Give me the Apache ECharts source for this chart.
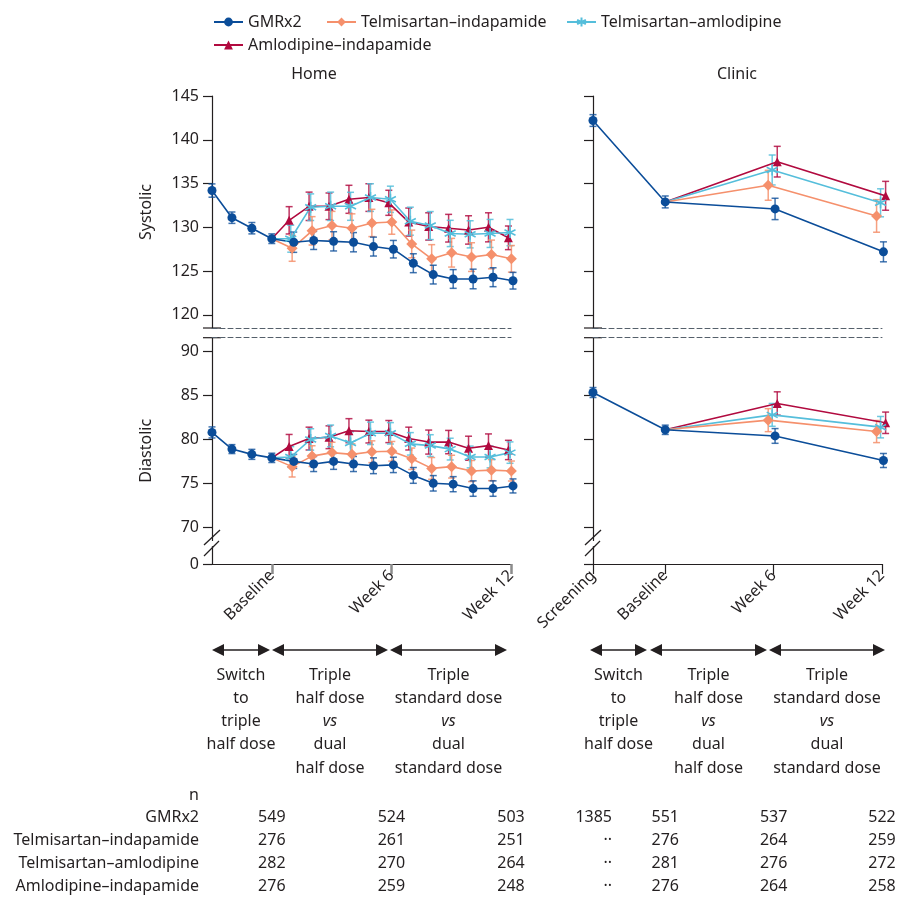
<!DOCTYPE html>
<html><head><meta charset="utf-8">
<script src="https://cdn.jsdelivr.net/npm/echarts@6/dist/echarts.min.js"></script>
<style>html,body{margin:0;padding:0;background:#fff}#c{width:901px;height:901px}</style>
</head><body><div id="c"></div>
<script>
// ---------- data ----------
const groupNames = ['GMRx2', 'Telmisartan–indapamide', 'Telmisartan–amlodipine', 'Amlodipine–indapamide'];
const homeWeeksGMR = [-3, -2, -1, 0, 1, 2, 3, 4, 5, 6, 7, 8, 9, 10, 11, 12];
const homeWeeksDual = [0, 1, 2, 3, 4, 5, 6, 7, 8, 9, 10, 11, 12];
const homeTickValues = [0, 6, 12];
const homeTickLabels = ['Baseline', 'Week 6', 'Week 12'];
const clinicVisits = [-4, 0, 6, 12];
const clinicTickLabels = ['Screening', 'Baseline', 'Week 6', 'Week 12'];
const sysTicks = [120, 125, 130, 135, 140, 145];
const diaTicks = [0, 70, 75, 80, 85, 90];

// Home systolic (mean, half error bar)
const homeSysGMR   = [134.2, 131.1, 129.9, 128.7, 128.3, 128.5, 128.4, 128.3, 127.8, 127.5, 125.9, 124.6, 124.1, 124.1, 124.3, 123.9];
const homeSysGMRse = [0.76, 0.65, 0.65, 0.55, 1.16, 1.03, 1.1, 1.1, 1.08, 1.0, 1.08, 1.07, 1.07, 1.12, 1.08, 0.95];
const homeSysTI    = [128.7, 127.6, 129.6, 130.2, 129.9, 130.5, 130.6, 128.1, 126.4, 127.1, 126.6, 126.9, 126.4];
const homeSysTIse  = [null, 1.48, 1.62, 1.62, 1.64, 1.56, 1.39, 1.58, 1.62, 1.64, 1.64, 1.64, 1.52];
const homeSysTA    = [128.7, 128.7, 132.3, 132.4, 132.4, 133.4, 133.2, 130.7, 130.2, 129.3, 129.2, 129.3, 129.4];
const homeSysTAse  = [null, 1.54, 1.52, 1.62, 1.6, 1.58, 1.5, 1.6, 1.6, 1.5, 1.55, 1.6, 1.5];
const homeSysAI    = [128.7, 130.8, 132.4, 132.4, 133.2, 133.4, 132.8, 130.6, 130.1, 129.9, 129.7, 130.0, 128.8];
const homeSysAIse  = [null, 1.56, 1.62, 1.52, 1.6, 1.58, 1.43, 1.6, 1.56, 1.58, 1.62, 1.66, 1.35];

// Home diastolic
const homeDiaGMR   = [80.8, 78.9, 78.3, 77.9, 77.5, 77.2, 77.5, 77.2, 77.0, 77.1, 75.9, 75.0, 74.9, 74.4, 74.4, 74.7];
const homeDiaGMRse = [0.63, 0.51, 0.57, 0.53, 0.8, 0.86, 0.91, 0.86, 0.9, 0.88, 0.9, 0.88, 0.86, 0.88, 0.88, 0.8];
const homeDiaTI    = [77.9, 76.9, 78.1, 78.5, 78.3, 78.6, 78.65, 77.8, 76.7, 76.9, 76.4, 76.5, 76.4];
const homeDiaTIse  = [null, 1.18, 1.18, 1.18, 1.2, 1.24, 1.12, 1.22, 1.24, 1.3, 1.2, 1.2, 1.14];
const homeDiaTA    = [77.9, 78.0, 80.0, 80.4, 79.6, 80.7, 80.7, 79.5, 79.3, 78.9, 78.0, 78.0, 78.5];
const homeDiaTAse  = [null, 1.18, 1.22, 1.24, 1.28, 1.28, 1.22, 1.28, 1.24, 1.24, 1.24, 1.24, 1.22];
const homeDiaAI    = [77.9, 79.2, 80.1, 80.25, 81.0, 80.9, 80.9, 80.1, 79.7, 79.7, 79.0, 79.3, 78.8];
const homeDiaAIse  = [null, 1.37, 1.3, 1.3, 1.37, 1.3, 1.26, 1.3, 1.37, 1.33, 1.37, 1.33, 1.1];

// Clinic systolic
const clinicSysGMR   = [142.2, 132.9, 132.1, 127.2];
const clinicSysGMRse = [0.67, 0.68, 1.22, 1.14];
const clinicSysTI    = [null, 132.9, 134.8, 131.3];
const clinicSysTIse  = [null, null, 1.71, 1.86];
const clinicSysTA    = [null, 132.9, 136.55, 132.8];
const clinicSysTAse  = [null, null, 1.71, 1.6];
const clinicSysAI    = [null, 132.9, 137.5, 133.6];
const clinicSysAIse  = [null, null, 1.75, 1.65];

// Clinic diastolic
const clinicDiaGMR   = [85.35, 81.1, 80.4, 77.6];
const clinicDiaGMRse = [0.57, 0.53, 0.84, 0.8];
const clinicDiaTI    = [null, 81.1, 82.2, 80.9];
const clinicDiaTIse  = [null, null, 1.31, 1.26];
const clinicDiaTA    = [null, 81.1, 82.8, 81.4];
const clinicDiaTAse  = [null, null, 1.3, 1.22];
const clinicDiaAI    = [null, 81.1, 84.1, 81.9];
const clinicDiaAIse  = [null, null, 1.33, 1.22];

// Numbers of participants
const tableHeader = 'n';
const nHomeGMR = [549, 524, 503];
const nHomeTI  = [276, 261, 251];
const nHomeTA  = [282, 270, 264];
const nHomeAI  = [276, 259, 248];
const nClinicGMR = [1385, 551, 537, 522];
const nClinicTI  = ['··', 276, 264, 259];
const nClinicTA  = ['··', 281, 276, 272];
const nClinicAI  = ['··', 276, 264, 258];

const phaseTexts = [
  ['Switch', 'to', 'triple', 'half dose'],
  ['Triple', 'half dose', 'vs', 'dual', 'half dose'],
  ['Triple', 'standard dose', 'vs', 'dual', 'standard dose']
];

// ---------- style ----------
const FONT = 'Noto Sans';
const TXT = '#231f20';
const colors = ['#0b4d99', '#f5906c', '#55bedb', '#b10a3f'];
const errColors = ['rgba(11,77,153,0.78)', 'rgba(245,144,108,0.85)', 'rgba(85,190,219,0.85)', 'rgba(177,10,63,0.82)'];
const asterisk = 'path://M0,-6L0,6M-5.2,-3L5.2,3M-5.2,3L5.2,-3';
const symbols = ['circle', 'diamond', asterisk, 'triangle'];
const symbolSizes = [9, 11, 11, 9];
const homeDodge = [0.1, 0.02, -0.05, -0.13];
const clinicDodge = [0.08, -0.3, -0.08, 0.2];

function renderErr(params, api) {
  const x = api.value(0), lo = api.value(1), hi = api.value(2);
  const p1 = api.coord([x, lo]), p2 = api.coord([x, hi]);
  const w = 3.5;
  const style = { stroke: api.visual('color'), lineWidth: 1.5, fill: null };
  return {
    type: 'group', children: [
      { type: 'line', shape: { x1: p1[0], y1: p1[1], x2: p2[0], y2: p2[1] }, style },
      { type: 'line', shape: { x1: p1[0] - w, y1: p1[1], x2: p1[0] + w, y2: p1[1] }, style },
      { type: 'line', shape: { x1: p2[0] - w, y1: p2[1], x2: p2[0] + w, y2: p2[1] }, style }
    ]
  };
}

const series = [];
function addGroup(gi, k, xs, ys, ses, dodge) {
  const data = [], err = [];
  xs.forEach((x, i) => {
    const y = ys[i];
    if (y == null) return;
    const xx = x > 0 ? x + dodge : x;
    data.push(ses[i] == null ? { value: [xx, y], symbol: 'none' } : [xx, y]);
    if (ses[i] != null) err.push([xx, y - ses[i], y + ses[i]]);
  });
  const isAst = k === 2;
  series.push({
    type: 'line', name: groupNames[k], xAxisIndex: gi, yAxisIndex: gi, data,
    symbol: symbols[k], symbolSize: symbolSizes[k], showAllSymbol: true, clip: false,
    lineStyle: { color: colors[k], width: 1.6 },
    itemStyle: { color: colors[k], borderColor: colors[k], borderWidth: isAst ? 1.6 : 0 },
    z: 3, silent: true, animation: false
  });
  series.push({
    type: 'custom', name: groupNames[k] + ' SE', xAxisIndex: gi, yAxisIndex: gi, clip: false,
    data: err, renderItem: renderErr, encode: { x: 0, y: [1, 2] },
    itemStyle: { color: errColors[k] }, z: 2, silent: true, animation: false
  });
}
const homeSys = [[homeSysGMR, homeSysGMRse], [homeSysTI, homeSysTIse], [homeSysTA, homeSysTAse], [homeSysAI, homeSysAIse]];
const homeDia = [[homeDiaGMR, homeDiaGMRse], [homeDiaTI, homeDiaTIse], [homeDiaTA, homeDiaTAse], [homeDiaAI, homeDiaAIse]];
const clinicSys = [[clinicSysGMR, clinicSysGMRse], [clinicSysTI, clinicSysTIse], [clinicSysTA, clinicSysTAse], [clinicSysAI, clinicSysAIse]];
const clinicDia = [[clinicDiaGMR, clinicDiaGMRse], [clinicDiaTI, clinicDiaTIse], [clinicDiaTA, clinicDiaTAse], [clinicDiaAI, clinicDiaAIse]];
[3, 2, 1, 0].forEach(k => {
  const hx = k === 0 ? homeWeeksGMR : homeWeeksDual;
  addGroup(0, k, hx, homeSys[k][0], homeSys[k][1], homeDodge[k]);
  addGroup(1, k, hx, homeDia[k][0], homeDia[k][1], homeDodge[k]);
  addGroup(2, k, clinicVisits, clinicSys[k][0], clinicSys[k][1], clinicDodge[k]);
  addGroup(3, k, clinicVisits, clinicDia[k][0], clinicDia[k][1], clinicDodge[k]);
});

// ---------- axes ----------
const axisLine = { show: true, onZero: false, lineStyle: { color: TXT, width: 1.2 } };
const dashedLine = { show: true, onZero: false, lineStyle: { color: '#55606b', width: 1, type: [5, 3] } };
const lbl = { fontSize: 16, color: TXT, fontFamily: FONT };
function dashedX(gi, min, pos) {
  return { type: 'value', gridIndex: gi, min, max: 12, position: pos, axisLine: dashedLine,
    axisTick: { show: false }, axisLabel: { show: false }, splitLine: { show: false } };
}
function labelledX(gi, min, vals, labels, tickColor, tickWidth) {
  return { type: 'value', gridIndex: gi, min, max: 12, position: 'bottom', axisLine,
    axisTick: { show: true, customValues: vals, length: 10, lineStyle: { color: tickColor, width: tickWidth } },
    axisLabel: Object.assign({ customValues: vals, rotate: 45, margin: 9,
      formatter: v => labels[vals.indexOf(v)] }, lbl),
    splitLine: { show: false } };
}
function sysY(gi, showLabel) {
  return { type: 'value', gridIndex: gi, min: 118.5, max: 145, axisLine,
    axisTick: { show: true, customValues: sysTicks, length: 9, lineStyle: { color: TXT, width: 1.2 } },
    axisLabel: Object.assign({ show: showLabel, customValues: sysTicks, margin: 13 }, lbl),
    splitLine: { show: false },
    name: showLabel ? 'Systolic' : '', nameLocation: 'middle', nameGap: 58, nameTextStyle: lbl };
}
function diaY(gi, showLabel) {
  return { type: 'value', gridIndex: gi, min: 0, max: 91.6,
    breaks: [{ start: 2, end: 68.5, gap: 0.7 }],
    breakArea: { show: true, itemStyle: { color: 'rgba(255,255,255,0)', borderColor: 'rgba(255,255,255,0)', borderWidth: 0 }, zigzagAmplitude: 0 },
    axisLine,
    axisTick: { show: true, customValues: diaTicks, length: 9, lineStyle: { color: TXT, width: 1.2 } },
    axisLabel: Object.assign({ show: showLabel, customValues: diaTicks, margin: 13 }, lbl),
    splitLine: { show: false },
    name: showLabel ? 'Diastolic' : '', nameLocation: 'middle', nameGap: 58, nameTextStyle: lbl };
}

const legendBase = { itemWidth: 29, itemHeight: 11, selectedMode: false, textStyle: lbl, padding: 0 };
const option = {
  animation: false,
  backgroundColor: '#fff',
  textStyle: { fontFamily: FONT },
  legend: [
    Object.assign({ data: [groupNames[0]], left: 213, top: 14 }, legendBase),
    Object.assign({ data: [groupNames[1]], left: 326, top: 14 }, legendBase),
    Object.assign({ data: [groupNames[2]], left: 566, top: 14 }, legendBase),
    Object.assign({ data: [groupNames[3]], left: 213, top: 37 }, legendBase)
  ],
  grid: [
    { left: 212, top: 96, width: 299, height: 232, outerBoundsMode: 'none' },
    { left: 212, top: 337.7, width: 299, height: 226.3, outerBoundsMode: 'none' },
    { left: 593, top: 96, width: 289, height: 232, outerBoundsMode: 'none' },
    { left: 593, top: 337.7, width: 289, height: 226.3, outerBoundsMode: 'none' }
  ],
  xAxis: [
    dashedX(0, -3, 'bottom'),
    labelledX(1, -3, homeTickValues, homeTickLabels, '#8c8c8c', 2.5),
    dashedX(2, -4, 'bottom'),
    labelledX(3, -4, clinicVisits, clinicTickLabels, TXT, 1.2),
    dashedX(1, -3, 'top'),
    dashedX(3, -4, 'top')
  ],
  yAxis: [sysY(0, true), diaY(1, true), sysY(2, false), diaY(3, false)],
  series
};

const chart = echarts.init(document.getElementById('c'), null, { renderer: 'canvas', width: 901, height: 901 });
chart.setOption(option);

// ---------- annotations ----------
function txt(text, x, y, align, italic) {
  return { type: 'text', x, y, silent: true, style: { text, fontSize: 16, fontFamily: FONT,
    fontStyle: italic ? 'italic' : 'normal', fill: TXT, align: align || 'center', verticalAlign: 'middle',
    textAlign: align || 'center', textVerticalAlign: 'middle' } };
}
function ln(x1, y1, x2, y2, w) {
  return { type: 'line', silent: true, shape: { x1, y1, x2, y2 }, style: { stroke: TXT, lineWidth: w || 1.3 } };
}
function arrow(x1, x2, y) {
  return [
    ln(x1 + 8, y, x2 - 8, y, 1.3),
    { type: 'polygon', silent: true, shape: { points: [[x1, y], [x1 + 12, y - 6], [x1 + 12, y + 6]] }, style: { fill: TXT } },
    { type: 'polygon', silent: true, shape: { points: [[x2, y], [x2 - 12, y - 6], [x2 - 12, y + 6]] }, style: { fill: TXT } }
  ];
}
const g = [];
g.push(txt('Home', 314, 74));
g.push(txt('Clinic', 737, 74));
const homeSegs = [[212, 270], [272, 388], [390, 507]];
const clinicSegs = [[590, 647], [650, 767], [769, 885]];
[homeSegs, clinicSegs].forEach(segs => {
  segs.forEach((s, i) => {
    arrow(s[0], s[1], 650).forEach(e => g.push(e));
    const cx = (s[0] + s[1]) / 2;
    phaseTexts[i].forEach((t, j) => g.push(txt(t, cx, 675 + j * 23.3, 'center', t === 'vs')));
  });
});
// axis break marks
[212, 593].forEach(ax => {
  g.push(ln(ax - 9, 328, ax + 9, 328, 1.2));
  g.push(ln(ax - 9, 337.7, ax + 9, 337.7, 1.2));
  g.push(ln(ax - 8, 545, ax + 8, 530, 1.3));
  g.push(ln(ax - 8, 556, ax + 7, 541, 1.3));
});
// table of n
const homeCols = homeTickValues.map(v => chart.convertToPixel({ xAxisIndex: 1 }, v));
const clinicCols = clinicVisits.map(v => chart.convertToPixel({ xAxisIndex: 3 }, v));
const nHome = [nHomeGMR, nHomeTI, nHomeTA, nHomeAI];
const nClinic = [nClinicGMR, nClinicTI, nClinicTA, nClinicAI];
const rowY = [817, 840, 863, 886];
g.push(txt(tableHeader, 199, 795, 'right'));
groupNames.forEach((name, r) => {
  g.push(txt(name, 199, rowY[r], 'right'));
  nHome[r].forEach((v, c) => g.push(txt(String(v), homeCols[c], rowY[r], 'center')));
  nClinic[r].forEach((v, c) => {
    if (c === 0) g.push(txt(String(v), clinicCols[c] + 19, rowY[r], 'right'));
    else g.push(txt(String(v), clinicCols[c], rowY[r], 'center'));
  });
});
chart.setOption({ graphic: g });
</script>
</body></html>
